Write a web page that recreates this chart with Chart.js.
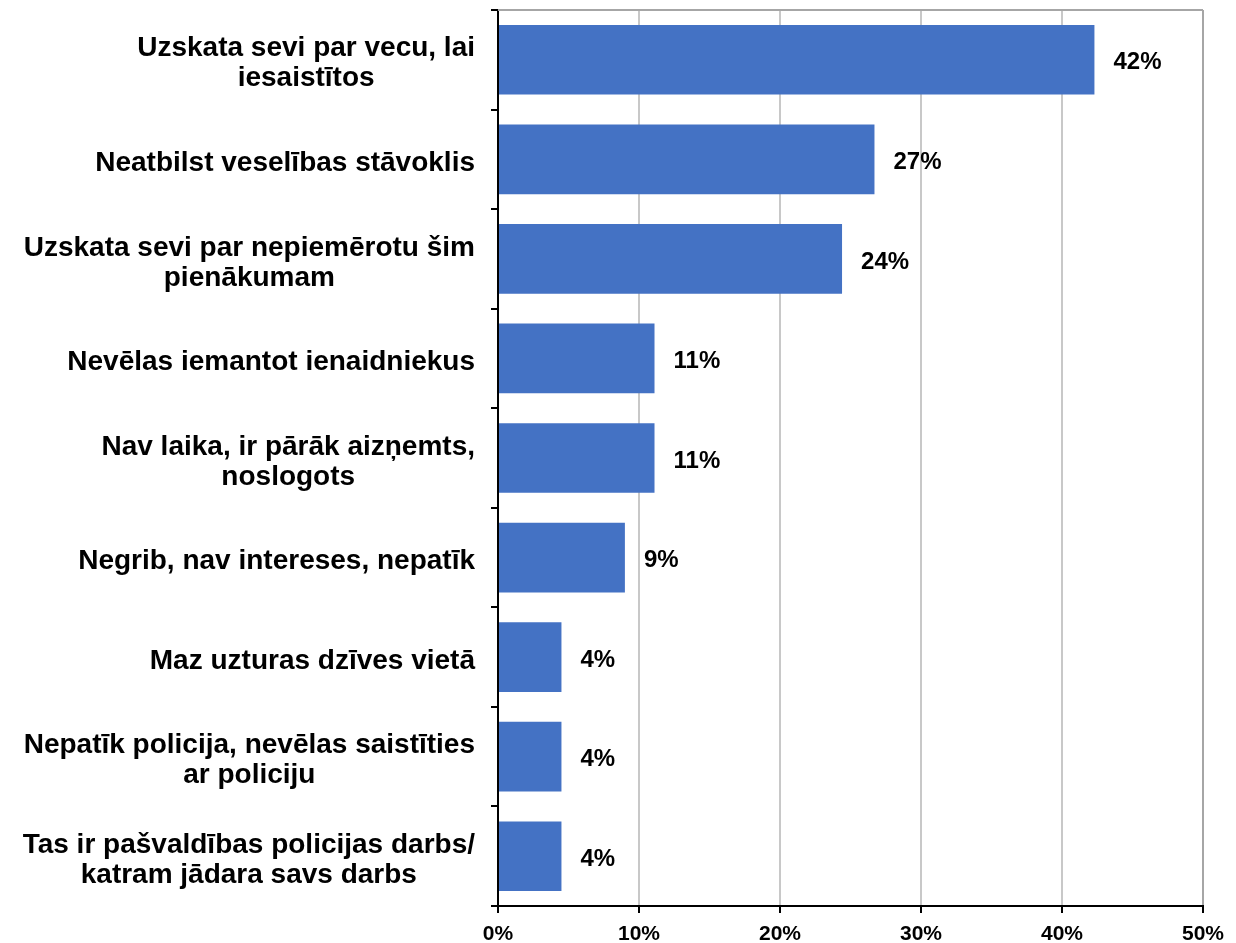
<!DOCTYPE html>
<html lang="lv">
<head>
    <meta charset="UTF-8">
    <title>Iemesli</title>
    <script src="https://cdn.jsdelivr.net/npm/chart.js"></script>
    <style>
        body { margin: 0; background: #fff; }
        #wrap { width: 1236px; height: 943px; position: relative; }
    </style>
</head>
<body>
    <div id="wrap"><canvas id="chart"></canvas></div>
    <script>
        // data
        const categories = [
            ['Uzskata sevi par vecu, lai', 'iesaistītos'],
            ['Neatbilst veselības stāvoklis'],
            ['Uzskata sevi par nepiemērotu šim', 'pienākumam'],
            ['Nevēlas iemantot ienaidniekus'],
            ['Nav laika, ir pārāk aizņemts,', 'noslogots'],
            ['Negrib, nav intereses, nepatīk'],
            ['Maz uzturas dzīves vietā'],
            ['Nepatīk policija, nevēlas saistīties', 'ar policiju'],
            ['Tas ir pašvaldības policijas darbs/', 'katram jādara savs darbs']
        ];
        const values = [42.3, 26.7, 24.4, 11.1, 11.1, 9.0, 4.5, 4.5, 4.5];
        const valueLabels = ['42%', '27%', '24%', '11%', '11%', '9%', '4%', '4%', '4%'];
        const xTicks = [0, 10, 20, 30, 40, 50];

        const FONT = '"Liberation Sans", Arial, sans-serif';

        // draws the category labels (lines centered inside a right-aligned block),
        // the value labels and the top frame line
        const extras = {
            id: 'extras',
            afterDraw(chart) {
                const ctx = chart.ctx;
                const area = chart.chartArea;
                const yScale = chart.scales.y;
                ctx.save();
                ctx.strokeStyle = '#a6a6a6';
                ctx.lineWidth = 2;
                ctx.beginPath();
                ctx.moveTo(area.left, area.top);
                ctx.lineTo(area.right, area.top);
                ctx.stroke();

                ctx.fillStyle = '#000';
                ctx.font = 'bold 28px ' + FONT;
                ctx.textBaseline = 'middle';
                ctx.textAlign = 'center';
                const rightEdge = area.left - 23;
                const lineH = 30;
                categories.forEach((lines, i) => {
                    const yc = yScale.getPixelForValue(i);
                    const w = Math.max(...lines.map(l => ctx.measureText(l).width));
                    const cx = rightEdge - w / 2;
                    const y0 = yc - (lines.length - 1) * lineH / 2;
                    lines.forEach((l, j) => ctx.fillText(l, cx, y0 + j * lineH + 4));
                });

                ctx.font = 'bold 24px ' + FONT;
                ctx.textAlign = 'left';
                const meta = chart.getDatasetMeta(0);
                meta.data.forEach((bar, i) => {
                    ctx.fillText(valueLabels[i], bar.x + 19, bar.y + 3);
                });
                ctx.restore();
            }
        };

        new Chart(document.getElementById('chart'), {
            type: 'bar',
            data: {
                labels: categories.map(c => c.join(' ')),
                datasets: [{
                    data: values,
                    backgroundColor: '#4472c4',
                    borderWidth: 0,
                    categoryPercentage: 1,
                    barPercentage: 0.7
                }]
            },
            plugins: [extras],
            options: {
                indexAxis: 'y',
                responsive: true,
                maintainAspectRatio: false,
                animation: false,
                layout: { padding: { top: 10, right: 33, left: 0, bottom: 0 } },
                plugins: {
                    legend: { display: false },
                    tooltip: { enabled: false }
                },
                scales: {
                    x: {
                        min: 0,
                        max: 50,
                        afterBuildTicks: s => { s.ticks = xTicks.map(v => ({ value: v })); },
                        afterFit: s => { s.height = 37; },
                        ticks: {
                            callback: v => v + '%',
                            color: '#000',
                            font: { family: FONT, size: 21, weight: 'bold' },
                            padding: 9
                        },
                        grid: {
                            color: c => c.index === 0 ? '#000' : (c.tick && c.tick.value === 50 ? '#a6a6a6' : '#c8c8c8'),
                            lineWidth: 2,
                            tickColor: '#000',
                            tickLength: 7
                        },
                        border: { color: '#000', width: 2 }
                    },
                    y: {
                        afterFit: s => { s.width = 498; },
                        ticks: { display: false },
                        grid: {
                            offset: true,
                            drawOnChartArea: false,
                            color: '#000',
                            lineWidth: 2,
                            tickLength: 7
                        },
                        border: { color: '#000', width: 2 }
                    }
                }
            }
        });
    </script>
</body>
</html>
